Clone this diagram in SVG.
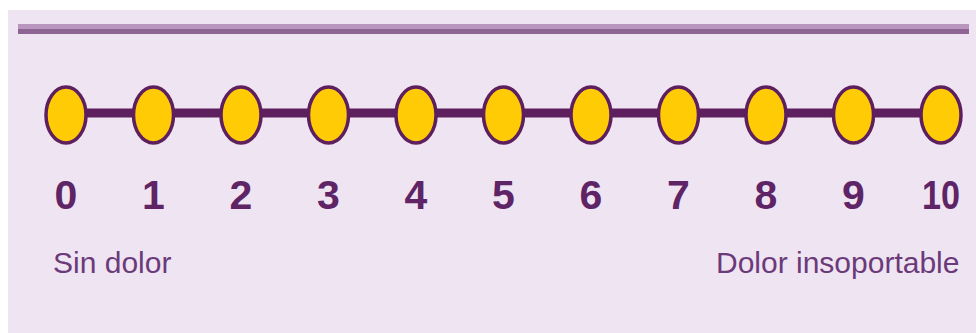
<svg xmlns="http://www.w3.org/2000/svg" width="976" height="333" viewBox="0 0 976 333">
<style>
.dot{fill:#FFCB05;stroke:#5E1F5F;stroke-width:3.5}
.num{font-family:"Liberation Sans",Arial,sans-serif;font-size:41px;font-weight:bold;fill:#5E2466;text-anchor:middle}
.lbl{font-family:"Liberation Sans",Arial,sans-serif;font-size:30px;fill:#6B3A7A}
</style>
<rect x="0" y="0" width="976" height="333" fill="#FFFFFF"/>
<rect x="8" y="10" width="968" height="323" fill="#EFE4F2"/>
<rect x="18" y="24" width="951" height="5" fill="#B896BE"/>
<rect x="18" y="29" width="951" height="5" fill="#8E6494"/>
<g id="connectors">
<line x1="66" y1="113" x2="941" y2="113" stroke="#5E1F5F" stroke-width="9"/>
</g>
<g id="n0"><ellipse class="dot" cx="66" cy="115" rx="20" ry="28"/><text class="num" x="66" y="209">0</text></g>
<g id="n1"><ellipse class="dot" cx="153.5" cy="115" rx="20" ry="28"/><text class="num" x="153.5" y="209">1</text></g>
<g id="n2"><ellipse class="dot" cx="241" cy="115" rx="20" ry="28"/><text class="num" x="241" y="209">2</text></g>
<g id="n3"><ellipse class="dot" cx="328.5" cy="115" rx="20" ry="28"/><text class="num" x="328.5" y="209">3</text></g>
<g id="n4"><ellipse class="dot" cx="416" cy="115" rx="20" ry="28"/><text class="num" x="416" y="209">4</text></g>
<g id="n5"><ellipse class="dot" cx="503.5" cy="115" rx="20" ry="28"/><text class="num" x="503.5" y="209">5</text></g>
<g id="n6"><ellipse class="dot" cx="591" cy="115" rx="20" ry="28"/><text class="num" x="591" y="209">6</text></g>
<g id="n7"><ellipse class="dot" cx="678.5" cy="115" rx="20" ry="28"/><text class="num" x="678.5" y="209">7</text></g>
<g id="n8"><ellipse class="dot" cx="766" cy="115" rx="20" ry="28"/><text class="num" x="766" y="209">8</text></g>
<g id="n9"><ellipse class="dot" cx="853.5" cy="115" rx="20" ry="28"/><text class="num" x="853.5" y="209">9</text></g>
<g id="n10"><ellipse class="dot" cx="941" cy="115" rx="20" ry="28"/><text class="num" x="941" y="209" textLength="38" lengthAdjust="spacingAndGlyphs">10</text></g>
<g id="labels">
<text class="lbl" x="53" y="273">Sin dolor</text>
<text class="lbl" x="716" y="273">Dolor insoportable</text>
</g>
</svg>
